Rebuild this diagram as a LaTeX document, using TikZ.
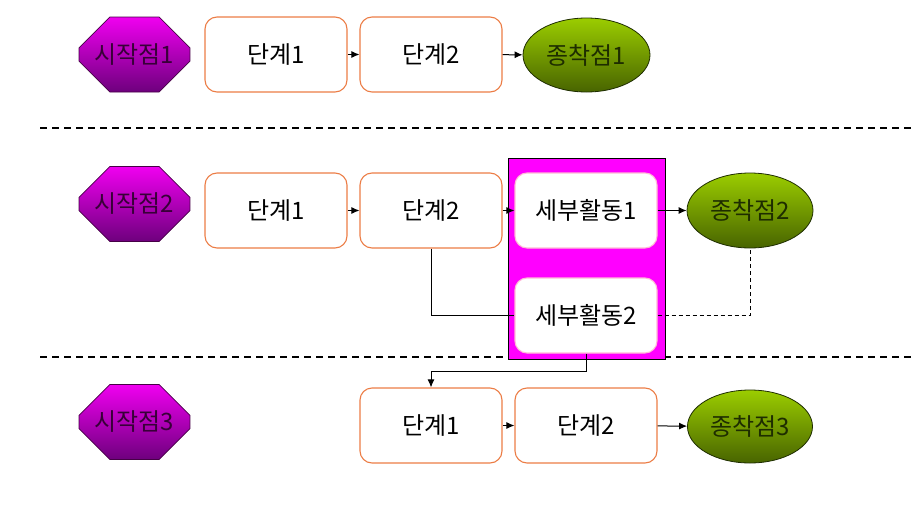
\documentclass[tikz,border=0pt]{standalone}
\usepackage{fontspec}
\setmainfont{Noto Sans CJK KR}
\usetikzlibrary{shapes.misc,shapes.geometric,arrows.meta}
\definecolor{boxorange}{RGB}{236,125,70}
\definecolor{magtop}{RGB}{240,0,240}
\definecolor{magbot}{RGB}{110,0,125}
\definecolor{magedge}{RGB}{70,0,70}
\definecolor{grtop}{RGB}{155,205,0}
\definecolor{grbot}{RGB}{72,100,0}
\definecolor{gredge}{RGB}{30,45,0}
\definecolor{panelmag}{RGB}{255,0,255}
\definecolor{pinkedge}{RGB}{255,185,215}
\tikzset{
  every node/.style={font=\fontsize{24}{28}\selectfont, inner sep=0pt},
  startnode/.style={chamfered rectangle, chamfered rectangle xsep=22pt, chamfered rectangle ysep=20pt,
     minimum width=111pt, minimum height=75pt, draw=magedge, line width=0.8pt,
     top color=magtop, bottom color=magbot, text=magedge!80!black},
  stepbox/.style={rectangle, rounded corners=12pt, minimum width=142pt, minimum height=75pt,
     draw=boxorange, line width=1.1pt, fill=white},
  subbox/.style={rectangle, rounded corners=12pt, minimum width=142pt, minimum height=75pt,
     draw=pinkedge, line width=1.1pt, fill=white},
  endnode/.style={ellipse, minimum width=127pt, minimum height=74pt, draw=gredge, line width=0.8pt,
     top color=grtop, bottom color=grbot, text=gredge},
  conn/.style={line width=1pt, -{Latex[length=8pt,width=7pt]}},
  plainconn/.style={line width=0.9pt},
  sep/.style={line width=1.3pt, dash pattern=on 7pt off 5pt},
}
\begin{document}
\begin{tikzpicture}[x=1pt,y=-1pt]
\useasboundingbox (0,0) rectangle (911,514);
% separators
\coordinate (d1a) at (40,128); \coordinate (d1b) at (911,128);
\coordinate (d2a) at (40,357); \coordinate (d2b) at (911,357);
\draw[sep] (d1a) -- (d1b);
\draw[sep] (d2a) -- (d2b);
% panel
\node[rectangle, minimum width=157pt, minimum height=201pt, fill=panelmag, draw=black, line width=1pt] (panel) at (586.5,258.5) {};
% row 1
\node[startnode] (o1) at (134.5,54.5) {시작점1};
\node[stepbox] (b11) at (276,54.5) {단계1};
\node[stepbox] (b12) at (431,54.5) {단계2};
\node[endnode] (e1) at (586.5,55) {종착점1};
% row 2
\node[startnode] (o2) at (134.5,204) {시작점2};
\node[stepbox] (b21) at (276,210.5) {단계1};
\node[stepbox] (b22) at (431,210.5) {단계2};
\node[subbox] (s1) at (586,210.5) {세부활동1};
\node[subbox] (s2) at (586,315.5) {세부활동2};
\node[endnode, minimum width=126pt, minimum height=75pt] (e2) at (750,210.5) {종착점2};
% row 3
\node[startnode] (o3) at (134.5,422) {시작점3};
\node[stepbox] (b31) at (431,425.5) {단계1};
\node[stepbox] (b32) at (586,425.5) {단계2};
\node[endnode, minimum width=125pt, minimum height=73pt] (e3) at (750,426.5) {종착점3};
% connectors
\draw[conn] (b11) -- (b12);
\draw[conn] (b12) -- (e1);
\draw[conn] (b21) -- (b22);
\draw[conn] (b22) -- (s1);
\draw[conn] (s1) -- (e2);
\draw[plainconn] (b22.south) |- (s2.west);
\draw[plainconn, dashed, dash pattern=on 4pt off 3pt] (s2.east) -| (e2.south);
\draw[conn] (s2.south) -- ++(0,18) -| (b31.north);
\draw[conn] (b31) -- (b32);
\draw[conn] (b32) -- (e3);
\end{tikzpicture}
\end{document}
